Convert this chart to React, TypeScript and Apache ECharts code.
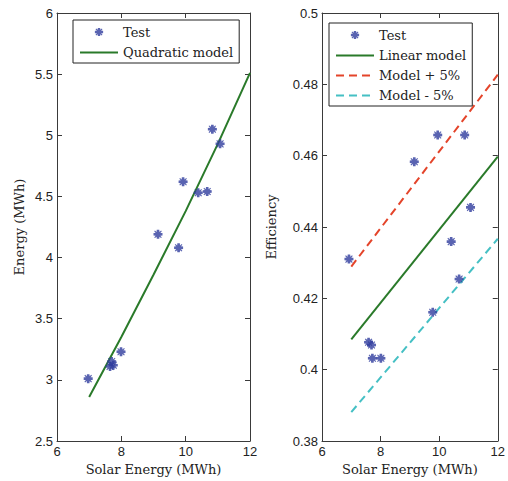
import React, { useEffect, useRef } from "react";
import * as echarts from "echarts";

// Shared test inputs (solar energy, MWh)
const solarTest = [6.97, 7.65, 7.70, 7.75, 7.99, 9.14, 9.78, 9.92, 10.39, 10.67, 10.83, 11.07];
const energyTest = [3.01, 3.11, 3.15, 3.12, 3.23, 4.19, 4.08, 4.62, 4.53, 4.54, 5.05, 4.93];
const solarTest2 = [6.92, 7.59, 7.69, 7.72, 8.01, 9.15, 9.78, 9.95, 10.41, 10.68, 10.87, 11.07];
const efficiencyTest = [0.431, 0.4077, 0.4069, 0.4032, 0.4032, 0.4583, 0.4161, 0.4658, 0.4359, 0.4254, 0.4658, 0.4455];

// Quadratic model curve
const quadX = [7, 8, 9, 10, 11, 12];
const quadY = [2.86, 3.35, 3.86, 4.38, 4.93, 5.51];

// Linear efficiency model and ±5% bands
const linX = [7, 12];
const linY = [0.4085, 0.4597];
const plusY = [0.4289, 0.4827];
const minusY = [0.3881, 0.4367];

const xTicks = { min: 6, max: 12, interval: 2 };
const energyTicks = { min: 2.5, max: 6, interval: 0.5 };
const effTicks = { min: 0.38, max: 0.5, interval: 0.02 };

const BLUE = "#2f3c9e";
const GREEN = "#2a7a2a";
const RED = "#e4442a";
const CYAN = "#45c0c4";
const AXIS = "#3a3a3a";
const SERIF = "DejaVu Serif";
const SANS = "Liberation Sans";

const STAR_D =
  "M-1.4,-5L1.4,-5L1.6,-2.6L3.4,-4.2L4.2,-3.4L2.6,-1.6L5,-1.4L5,1.4L2.6,1.6L4.2,3.4L3.4,4.2L1.6,2.6L1.4,5L-1.4,5L-1.6,2.6L-3.4,4.2L-4.2,3.4L-2.6,1.6L-5,1.4L-5,-1.4L-2.6,-1.6L-4.2,-3.4L-3.4,-4.2L-1.6,-2.6Z";
const STAR = "path://" + STAR_D;
const STAR_LEGEND = "path://" + STAR_D + "M-8.5,-8.5L-8.45,-8.5L-8.5,-8.45ZM8.5,8.5L8.45,8.5L8.5,8.45Z";

const pairs = (xs: number[], ys: number[]) => xs.map((x, i) => [x, ys[i]]);

export default function App() {
  const ref = useRef<HTMLDivElement>(null);
  useEffect(() => {
    if (!ref.current) return;
    const chart = echarts.init(ref.current, undefined, { renderer: "svg" });
    const axisLine = { show: true, lineStyle: { color: AXIS, width: 1 } };
    const tick = { show: true, inside: true, length: 5, lineStyle: { color: AXIS } };
    const label = { color: "#222", fontFamily: SANS, fontSize: 13, margin: 4 };
    const nameStyle = { color: "#222", fontFamily: SERIF, fontSize: 13 };
    const main = (gridIndex: number, r: any, extra: any) => ({
      type: "value",
      gridIndex,
      ...r,
      axisLine,
      axisTick: tick,
      axisLabel: label,
      splitLine: { show: false },
      nameTextStyle: nameStyle,
      nameLocation: "middle",
      ...extra,
    });
    const sec = (gridIndex: number, r: any, position: string) => ({
      type: "value",
      gridIndex,
      ...r,
      position,
      axisLine,
      axisTick: tick,
      axisLabel: { show: false },
      splitLine: { show: false },
    });
    const legendBase = {
      orient: "vertical",
      backgroundColor: "#fff",
      borderColor: "#222",
      borderWidth: 1,
      borderRadius: 0,
      itemWidth: 38,
      itemHeight: 14,
      itemGap: 7,
      textStyle: { fontFamily: SERIF, fontSize: 13, color: "#222" },
      selectedMode: false,
    };
    const lineItem = (name: string) => ({
      name,
      itemStyle: { opacity: 0, color: "transparent", borderWidth: 0 },
    });
    const testItem = { name: "Test", icon: STAR_LEGEND, itemStyle: { color: BLUE } };
    chart.setOption({
      animation: false,
      backgroundColor: "#fff",
      grid: [
        { left: 57, right: 258, top: 13, bottom: 40 },
        { left: 322, right: 6, top: 13, bottom: 40 },
      ],
      xAxis: [
        main(0, xTicks, { name: "Solar Energy (MWh)", nameGap: 18 }),
        main(1, xTicks, { name: "Solar Energy (MWh)", nameGap: 18 }),
        sec(0, xTicks, "top"),
        sec(1, xTicks, "top"),
      ],
      yAxis: [
        main(0, energyTicks, { name: "Energy (MWh)", nameGap: 31 }),
        main(1, effTicks, { name: "Efficiency", nameGap: 44 }),
        sec(0, energyTicks, "right"),
        sec(1, effTicks, "right"),
      ],
      legend: [
        {
          ...legendBase,
          left: 73,
          top: 20,
          padding: [5, 6, 4, 6],
          data: [testItem, lineItem("Quadratic model")],
        },
        {
          ...legendBase,
          left: 329,
          top: 23,
          padding: [5, 6, 4, 6],
          data: [testItem, lineItem("Linear model"), lineItem("Model + 5%"), lineItem("Model - 5%")],
        },
      ],
      series: [
        {
          name: "Quadratic model",
          type: "line",
          xAxisIndex: 0,
          yAxisIndex: 0,
          data: pairs(quadX, quadY),
          symbol: "none",
          lineStyle: { color: GREEN, width: 2 },
          itemStyle: { color: GREEN },
        },
        {
          name: "Test",
          type: "scatter",
          xAxisIndex: 0,
          yAxisIndex: 0,
          data: pairs(solarTest, energyTest),
          symbol: STAR,
          symbolSize: 9,
          itemStyle: { color: BLUE },
          z: 5,
        },
        {
          name: "Linear model",
          type: "line",
          xAxisIndex: 1,
          yAxisIndex: 1,
          data: pairs(linX, linY),
          symbol: "none",
          lineStyle: { color: GREEN, width: 2 },
          itemStyle: { color: GREEN },
        },
        {
          name: "Model + 5%",
          type: "line",
          xAxisIndex: 1,
          yAxisIndex: 1,
          data: pairs(linX, plusY),
          symbol: "none",
          lineStyle: { color: RED, width: 2, type: [8, 5] },
          itemStyle: { color: RED },
        },
        {
          name: "Model - 5%",
          type: "line",
          xAxisIndex: 1,
          yAxisIndex: 1,
          data: pairs(linX, minusY),
          symbol: "none",
          lineStyle: { color: CYAN, width: 2, type: [8, 5] },
          itemStyle: { color: CYAN },
        },
        {
          name: "Test",
          type: "scatter",
          xAxisIndex: 1,
          yAxisIndex: 1,
          data: pairs(solarTest2, efficiencyTest),
          symbol: STAR,
          symbolSize: 9,
          itemStyle: { color: BLUE },
          z: 5,
        },
      ],
    });
    return () => chart.dispose();
  }, []);
  return <div ref={ref} style={{ width: 508, height: 481, position: "absolute", left: 0, top: 0 }} />;
}
